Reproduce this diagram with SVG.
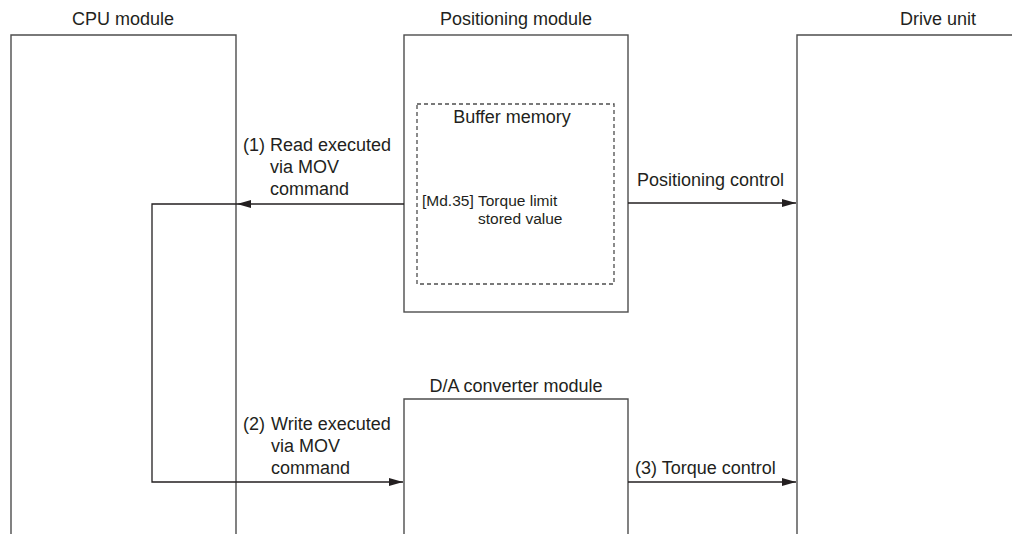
<svg xmlns="http://www.w3.org/2000/svg" width="1012" height="534" viewBox="0 0 1012 534">
<defs>
<style>
text{font-family:"Liberation Sans",Arial,sans-serif;fill:#231f20;font-size:18px}
.s{font-size:15.5px}
.box{fill:none;stroke:#4d4d4d;stroke-width:1.4}
.dash{fill:none;stroke:#4d4d4d;stroke-width:1.3;stroke-dasharray:4 3}
.ln{fill:none;stroke:#231f20;stroke-width:1.3}
</style>
<marker id="ah" viewBox="0 0 14 8" refX="14" refY="4" markerWidth="14" markerHeight="8" markerUnits="userSpaceOnUse" orient="auto">
<path d="M0,0 L14,4 L0,8 Z" fill="#231f20"/>
</marker>
</defs>
<rect width="1012" height="534" fill="#fff"/>
<g id="cpu">
<path class="box" d="M11,534 V35 H236 V534"/>
<text x="123" y="25" text-anchor="middle">CPU module</text>
</g>
<g id="positioning">
<rect class="box" x="404" y="35" width="224" height="277"/>
<text x="516" y="25" text-anchor="middle">Positioning module</text>
</g>
<g id="buffer">
<rect class="dash" x="417" y="104" width="197" height="180"/>
<text x="512" y="123" text-anchor="middle">Buffer memory</text>
<text class="s" x="422" y="206">[Md.35]</text>
<text class="s" x="478" y="206">Torque limit</text>
<text class="s" x="478" y="224">stored value</text>
</g>
<g id="drive">
<path class="box" d="M797,534 V35 H1020"/>
<text x="938" y="25" text-anchor="middle">Drive unit</text>
</g>
<g id="da">
<path class="box" d="M404,534 V399 H628 V534"/>
<text x="516" y="392" text-anchor="middle">D/A converter module</text>
</g>
<g id="connectors">
<path class="ln" d="M404,204 H237" marker-end="url(#ah)"/>
<path class="ln" d="M237,204 H152 V482 H403" marker-end="url(#ah)"/>
<path class="ln" d="M628,203 H796" marker-end="url(#ah)"/>
<path class="ln" d="M628,482 H796" marker-end="url(#ah)"/>
</g>
<g id="labels">
<text x="243" y="151">(1)</text>
<text x="270" y="151">Read executed</text>
<text x="270" y="173">via MOV</text>
<text x="270" y="195">command</text>
<text x="243" y="430">(2)</text>
<text x="271" y="430">Write executed</text>
<text x="271" y="452">via MOV</text>
<text x="271" y="474">command</text>
<text x="637" y="186">Positioning control</text>
<text x="635" y="474">(3) Torque control</text>
</g>
</svg>
